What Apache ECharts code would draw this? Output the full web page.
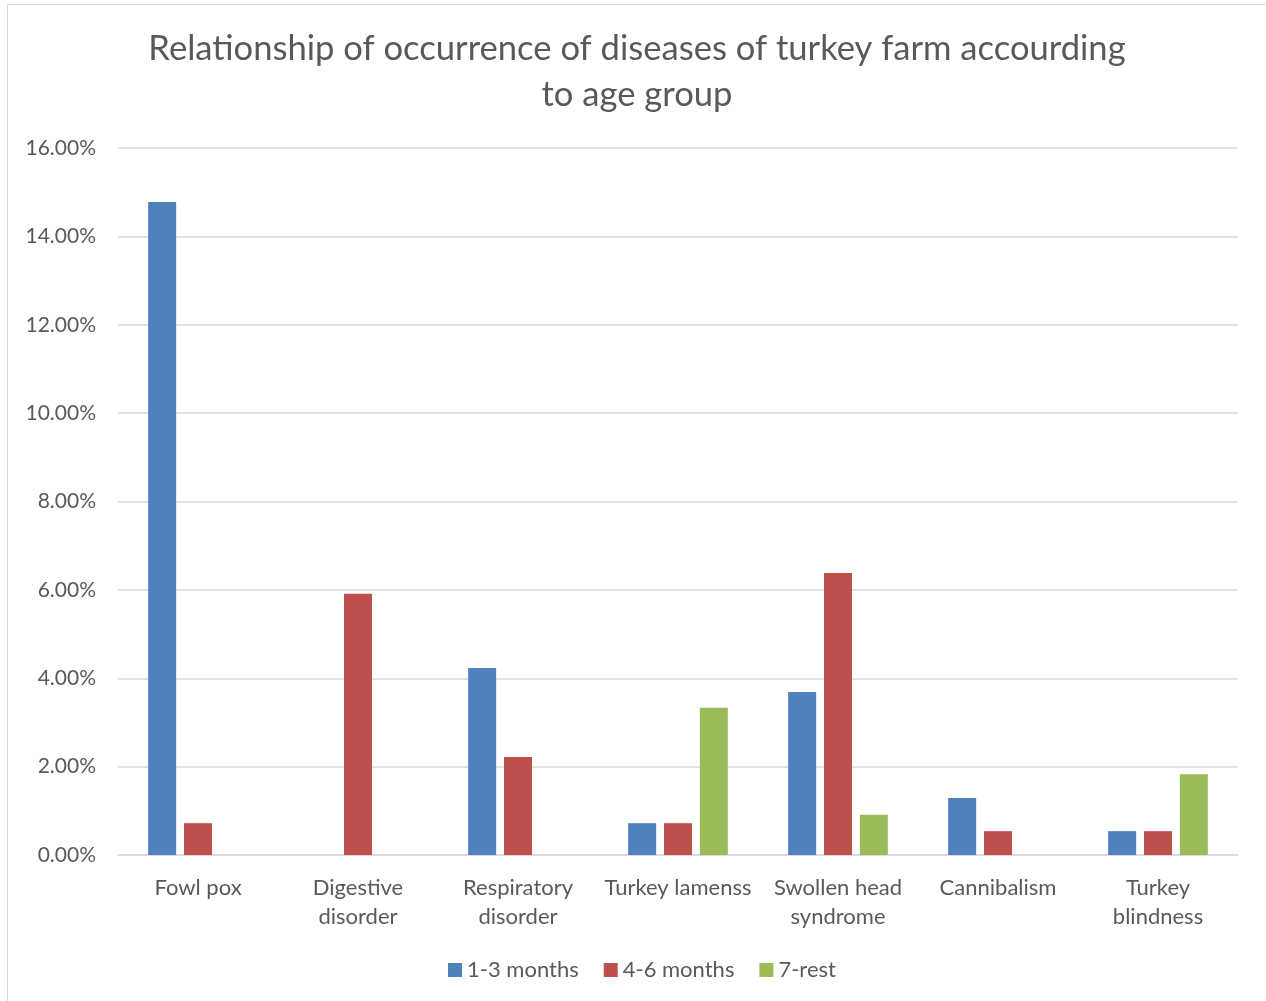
<!DOCTYPE html>
<html>
<head>
<meta charset="utf-8">
<script src="https://cdn.jsdelivr.net/npm/echarts@6/dist/echarts.min.js"></script>
<style>
  html, body { margin: 0; padding: 0; background: #fff; overflow: hidden; }
  #frame { position: absolute; left: 7px; top: 4px; width: 1270px; height: 1010px; border: 1px solid #d9d9d9; box-sizing: border-box; }
  #chart { position: absolute; left: 0; top: 0; width: 1266px; height: 1001px; }
</style>
</head>
<body>
<div id="frame"></div>
<div id="chart"></div>
<script>
// categories / series (percent)
const categories = [
	"Fowl pox",
	"Digestive\ndisorder",
	"Respiratory\ndisorder",
	"Turkey lamenss",
	"Swollen head\nsyndrome",
	"Cannibalism",
	"Turkey\nblindness"
];
const months1to3 = [14.78, 0, 4.23, 0.72, 3.69, 1.29, 0.54];
const months4to6 = [0.72, 5.91, 2.22, 0.72, 6.38, 0.54, 0.54];
const sevenRest = [0, 0, 0, 3.33, 0.91, 0, 1.83];
const seriesNames = ["1-3 months", "4-6 months", "7-rest"];
const colors = ["#4f81bd", "#c0504d", "#9bbb59"];

const font = "Lato, 'Open Sans', sans-serif";
const textColor = "#595959";

const chart = echarts.init(document.getElementById("chart"));

chart.setOption({
	animation: false,
	color: colors,
	title: {
		text: "Relationship of occurrence of diseases of turkey farm accourding\nto age group",
		left: 632,
		textAlign: "center",
		top: 21,
		textStyle: {
			fontFamily: font,
			fontSize: 34.6,
			fontWeight: "normal",
			color: textColor,
			lineHeight: 46
		}
	},
	legend: {
		bottom: 15,
		left: 443,
		itemWidth: 14,
		itemHeight: 14,
		itemGap: 25,
		icon: "rect",
		textStyle: { fontFamily: font, fontSize: 22, color: textColor },
		data: seriesNames
	},
	grid: {
		left: 118,
		right: 28,
		top: 148,
		bottom: 146,
		containLabel: false
	},
	xAxis: {
		type: "category",
		data: categories,
		axisTick: { show: false },
		axisLine: { lineStyle: { color: "#d9d9d9", width: 1.5 } },
		axisLabel: {
			interval: 0,
			margin: 18,
			fontFamily: font,
			fontSize: 22,
			color: textColor,
			lineHeight: 29
		}
	},
	yAxis: {
		type: "value",
		min: 0,
		max: 16,
		interval: 2,
		axisLine: { show: false },
		axisTick: { show: false },
		splitLine: { lineStyle: { color: "#d9d9d9", width: 1.5 } },
		axisLabel: {
			margin: 22,
			fontFamily: font,
			fontSize: 21,
			color: textColor,
			formatter: function (v) { return v.toFixed(2) + "%"; }
		}
	},
	series: [
		{ name: seriesNames[0], type: "bar", data: months1to3, barWidth: 28, barGap: "28%" },
		{ name: seriesNames[1], type: "bar", data: months4to6, barWidth: 28, barGap: "28%" },
		{ name: seriesNames[2], type: "bar", data: sevenRest, barWidth: 28, barGap: "28%" }
	]
});
</script>
</body>
</html>
